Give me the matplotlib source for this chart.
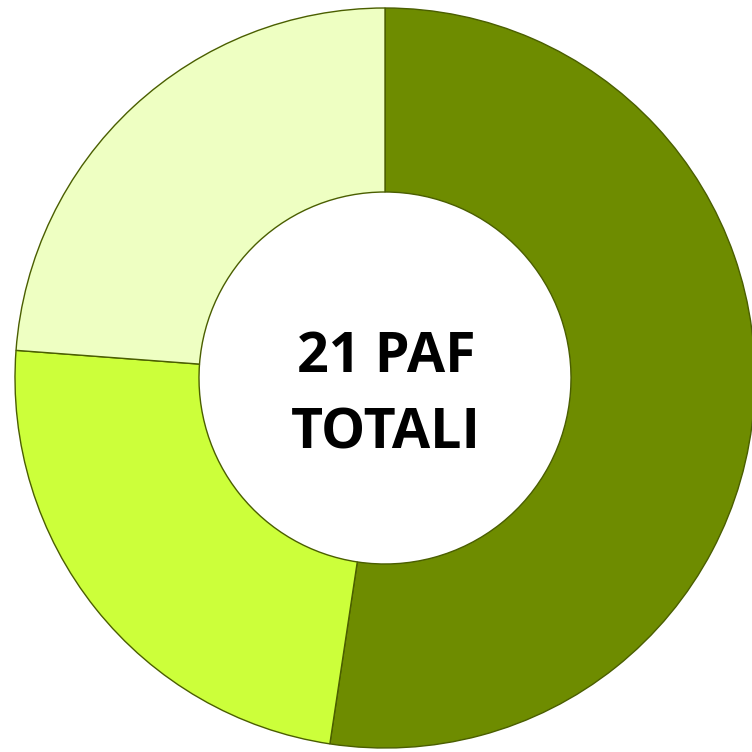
import matplotlib
matplotlib.use("Agg")
import matplotlib.pyplot as plt

# PAF counts per group (21 total)
labels = ["Gruppo A", "Gruppo B", "Gruppo C"]
values = [11, 5, 5]
colors = ["#6E8C00", "#CCFF3A", "#EEFFC2"]
center_text = "21 PAF\nTOTALI"

fig = plt.figure(figsize=(7.52, 7.52), dpi=100)
ax = fig.add_axes([0, 0, 1, 1])

ax.pie(values, colors=colors, startangle=90, counterclock=False,
       radius=370, center=(385, 374),
       wedgeprops=dict(width=184, edgecolor="#4A5E00", linewidth=1.0))

ax.text(386, 356, center_text, ha="center", va="center",
        fontsize=40, fontweight="bold", family=["Open Sans", "DejaVu Sans"],
        linespacing=1.5)

ax.set_xlim(0, 752)
ax.set_ylim(0, 752)
ax.set_aspect("equal")
ax.axis("off")

fig.savefig("out.png", dpi=100, facecolor="white")
